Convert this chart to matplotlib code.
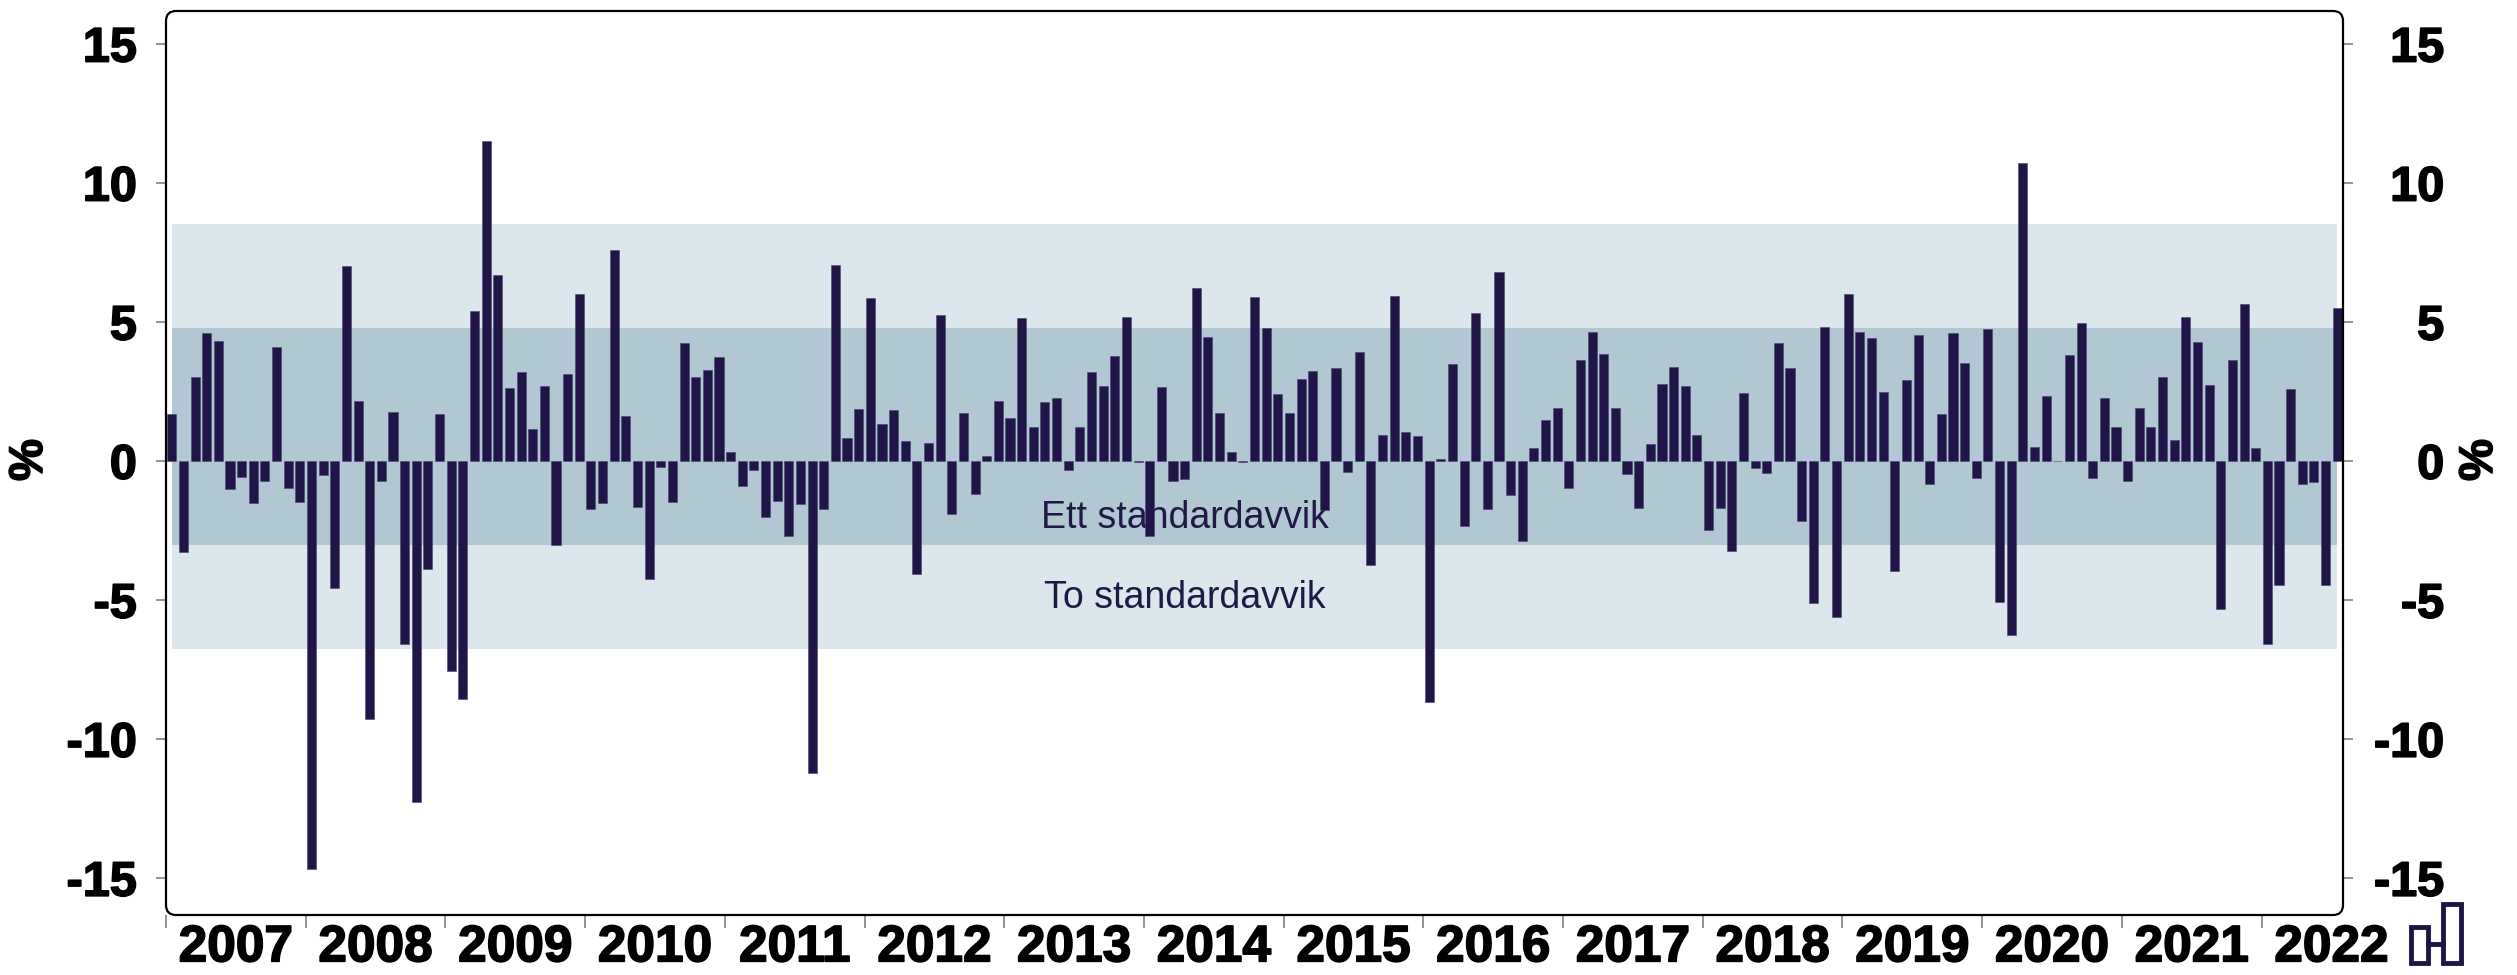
import matplotlib.pyplot as plt
from matplotlib.patches import FancyBboxPatch, Rectangle
from matplotlib.lines import Line2D
from matplotlib.transforms import ScaledTranslation
import matplotlib.patheffects as pe
import numpy as np

plt.rcParams['font.family'] = ['Liberation Sans', 'DejaVu Sans']

# monthly values, Jan 2007 - Jul 2022 (%)
y2007 = [1.71, -3.25, 3.03, 4.62, 4.31, -0.99, -0.57, -1.50, -0.73, 4.11, -0.95, -1.45]
y2008 = [-14.65, -0.51, -4.55, 7.01, 2.15, -9.28, -0.73, 1.78, -6.58, -12.25, -3.89, 1.71]
y2009 = [-7.56, -8.55, 5.41, 11.5, 6.68, 2.64, 3.19, 1.14, 2.71, -3.03, 3.14, 6.02]
y2010 = [-1.72, -1.50, 7.58, 1.63, -1.65, -4.22, -0.22, -1.47, 4.24, 3.03, 3.28, 3.74]
y2011 = [0.33, -0.88, -0.33, -2.0, -1.43, -2.70, -1.54, -11.2, -1.71, 7.06, 0.83, 1.89]
y2012 = [5.87, 1.34, 1.83, 0.73, -4.05, 0.66, 5.25, -1.91, 1.72, -1.17, 0.20, 2.16]
y2013 = [1.54, 5.15, 1.23, 2.13, 2.27, -0.31, 1.23, 3.19, 2.70, 3.78, 5.19, -0.04]
y2014 = [-2.70, 2.66, -0.70, -0.64, 6.22, 4.46, 1.72, 0.33, -0.04, 5.91, 4.79, 2.40]
y2015 = [1.72, 2.95, 3.25, -1.74, 3.36, -0.39, 3.93, -3.74, 0.95, 5.94, 1.05, 0.92]
y2016 = [-8.66, 0.07, 3.50, -2.33, 5.34, -1.71, 6.79, -1.21, -2.86, 0.48, 1.49, 1.93]
y2017 = [-0.95, 3.63, 4.64, 3.87, 1.91, -0.46, -1.69, 0.61, 2.77, 3.39, 2.70, 0.94]
y2018 = [-2.48, -1.69, -3.23, 2.46, -0.24, -0.42, 4.24, 3.36, -2.15, -5.10, 4.81, -5.59]
y2019 = [6.03, 4.66, 4.42, 2.49, -3.94, 2.92, 4.53, -0.81, 1.71, 4.62, 3.54, -0.59]
y2020 = [4.77, -5.08, -6.26, 10.73, 0.51, 2.33, 0.02, 3.82, 4.97, -0.59, 2.29, 1.23]
y2021 = [-0.73, 1.91, 1.23, 3.03, 0.75, 5.17, 4.27, 2.75, -5.30, 3.65, 5.65, 0.48]
y2022 = [-6.58, -4.46, 2.59, -0.81, -0.75, -4.46, 5.52]

values = (y2007 + y2008 + y2009 + y2010 + y2011 + y2012 + y2013 + y2014 + y2015
          + y2016 + y2017 + y2018 + y2019 + y2020 + y2021 + y2022)
years = list(range(2007, 2023))
yticks = [-15, -10, -5, 0, 5, 10, 15]

# standard deviation bands
one_sd = (-3.01, 4.79)
two_sd = (-6.75, 8.53)

navy = '#1f1547'
W, H = 2517, 975
fig = plt.figure(figsize=(W / 100, H / 100), dpi=100)
ax = fig.add_axes([166 / W, 1 - 915 / H, (2343 - 166) / W, (915 - 11) / H])

x = np.arange(len(values))
ax.fill_between([x[0], x[-1]], two_sd[0], two_sd[1], color='#dbe7ec', lw=0, zorder=1)
ax.fill_between([x[0], x[-1]], one_sd[0], one_sd[1], color='#b1c8d3', lw=0, zorder=1)
ax.text(87, -2.42, 'Ett standardavvik', ha='center', va='baseline', fontsize=27,
        color='#1f1a45', zorder=2)
ax.text(87, -5.28, 'To standardavvik', ha='center', va='baseline', fontsize=27,
        color='#1f1a45', zorder=2)
ax.bar(x, values, width=0.78, color=navy, edgecolor='#4a4370', linewidth=0.4, zorder=3)

ax.set_xlim(-0.5, len(values) - 0.5)
ax.set_ylim(-16.32, 16.19)

heavy = [pe.withStroke(linewidth=1.2, foreground='black')]

# y axis on both sides, right labels right-aligned
ax.set_yticks(yticks)
ax.set_yticklabels([str(v) for v in yticks])
ax.tick_params(axis='y', left=True, right=True, labelleft=True, labelright=True,
               length=7, width=1.2, color='#808080', labelsize=35, pad=14)
for t in ax.yaxis.get_major_ticks():
    for lab in (t.label1, t.label2):
        lab.set_fontweight('bold')
        lab.set_path_effects(heavy)
    t.label2.set_horizontalalignment('right')
    t.label2.set_transform(t.label2.get_transform() + ScaledTranslation(0.72, 0, fig.dpi_scale_trans))

# x axis: ticks at year boundaries, labels mid-year
ax.set_xticks([12 * i - 0.5 for i in range(len(years))])
ax.set_xticklabels([])
ax.set_xticks([12 * i + 5.5 for i in range(len(years))], minor=True)
ax.set_xticklabels([str(yr) for yr in years], minor=True, fontsize=37, fontweight='bold')
for lab in ax.get_xticklabels(minor=True):
    lab.set_path_effects(heavy)
ax.tick_params(axis='x', which='major', length=9, width=1.2, color='#808080')
ax.tick_params(axis='x', which='minor', length=0, pad=6)

for s in ax.spines.values():
    s.set_visible(False)

# rounded frame
frame = FancyBboxPatch((166 / 100, (H - 915) / 100), (2343 - 166) / 100, (915 - 11) / 100,
                       boxstyle='round,pad=0,rounding_size=0.1', transform=fig.dpi_scale_trans,
                       facecolor='none', edgecolor='black', linewidth=1.6, zorder=5)
fig.patches.append(frame)

fig.text(30 / W, 1 - 460 / H, '%', rotation=90, ha='center', va='center', fontsize=34,
         fontweight='bold', path_effects=heavy)
fig.text(2480 / W, 1 - 460 / H, '%', rotation=90, ha='center', va='center', fontsize=34,
         fontweight='bold', path_effects=heavy)

# small logo in the corner
fig.patches.append(Rectangle((2411 / W, 1 - 963 / H), 17 / W, 36 / H, transform=fig.transFigure,
                             facecolor='none', edgecolor=navy, linewidth=3.5))
fig.patches.append(Rectangle((2443 / W, 1 - 963 / H), 18 / W, 59 / H, transform=fig.transFigure,
                             facecolor='none', edgecolor=navy, linewidth=3.5))
fig.lines.append(Line2D([2428 / W, 2443 / W], [1 - 944 / H, 1 - 944 / H], transform=fig.transFigure,
                        color=navy, linewidth=3.5))

fig.savefig('out.png', dpi=100)
